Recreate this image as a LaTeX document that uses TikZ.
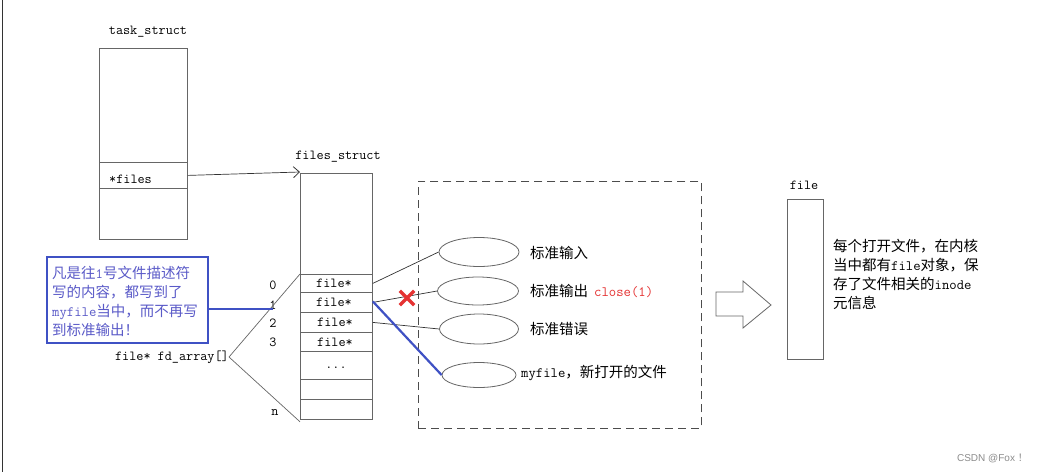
\documentclass[tikz,border=0pt]{standalone}
\usepackage{fontspec}
\newfontfamily\cjk{Noto Sans CJK SC}
\newfontfamily\wmfont{Liberation Sans}
\usetikzlibrary{arrows.meta,shapes.geometric}
\definecolor{boxgray}{HTML}{666666}
\definecolor{linegray}{HTML}{333333}
\definecolor{bluebox}{HTML}{3F51C4}
\definecolor{bluetext}{HTML}{5A5AC8}
\definecolor{redmark}{HTML}{E53333}
\newcommand\mtt[1]{{\ttfamily\fontsize{14.3}{19}\selectfont #1}}
\begin{document}
\begin{tikzpicture}[x=1pt,y=-1pt,
  cell/.style={draw=boxgray, line width=0.8pt, inner sep=0pt, anchor=north west},
  code/.style={font=\ttfamily\fontsize{13.8}{15}\selectfont, inner sep=0pt},
  cn/.style={font=\cjk\fontsize{14.5}{19}\selectfont, inner sep=0pt, align=left},
  ell/.style={draw=boxgray, line width=0.8pt, ellipse, inner sep=0pt},
  conn/.style={draw=linegray, line width=0.7pt},
  blueconn/.style={draw=bluebox, line width=2.2pt}
]
\useasboundingbox (0,0) rectangle (1041,472);
\fill[white] (0,0) rectangle (1041,472);
\draw[line width=1.3pt, black!80] (2.5,0) -- (2.5,472);

% task_struct
\node[code] (tslabel) at (148,32) {task\_struct};
\node[cell, minimum width=88, minimum height=114] (tstop) at (99,48) {};
\node[cell, minimum width=88, minimum height=26] (tsfiles) at (99,162) {};
\node[code, anchor=west] (tsfilestxt) at (109,179) {*files};
\node[cell, minimum width=88, minimum height=51] (tsbot) at (99,188) {};

% files_struct
\node[code] (fslabel) at (338,157) {files\_struct};
\node[cell, minimum width=72, minimum height=101] (fstop) at (300,173) {};
\node[cell, minimum width=72, minimum height=18] (r0) at (300,274) {};
\node[cell, minimum width=72, minimum height=20] (r1) at (300,292) {};
\node[cell, minimum width=72, minimum height=20] (r2) at (300,312) {};
\node[cell, minimum width=72, minimum height=19] (r3) at (300,332) {};
\node[cell, minimum width=72, minimum height=28] (r4) at (300,351) {};
\node[cell, minimum width=72, minimum height=20] (r5) at (300,379) {};
\node[cell, minimum width=72, minimum height=20] (r6) at (300,399) {};
\node[code] (t0) at (334,283.5) {file*};
\node[code] (t1) at (334,302.5) {file*};
\node[code] (t2) at (335,322.5) {file*};
\node[code] (t3) at (335,342) {file*};
\node[code] (t4) at (336,368) {...};

% indices
\node[code] (i0) at (273,285) {0};
\node[code] (i1) at (273,305) {1};
\node[code] (i2) at (273,323) {2};
\node[code] (i3) at (273,342) {3};
\node[code] (in) at (275,412) {n};
\node[code, anchor=east] (fd) at (229,357) {file* fd\_array[]};
\draw[conn, draw=boxgray] (fd.east) -- (r0.north west);
\draw[conn, draw=boxgray] (fd.east) -- ([yshift=-2pt]r6.south west);

% *files -> files_struct
\draw[conn, -{Straight Barb[length=6pt,width=11pt,line width=0.8pt]}] (tsfiles.east) -- ([yshift=1pt]fstop.north west);

% dashed box
\node[cell, dashed, dash pattern=on 8pt off 5pt, draw=black!70, minimum width=283, minimum height=247] (dbox) at (418,181) {};

% ellipses
\node[ell, minimum width=80, minimum height=29] (e1) at (479,252) {};
\node[ell, minimum width=81, minimum height=28] (e2) at (478,291) {};
\node[ell, minimum width=79, minimum height=30] (e3) at (479,329) {};
\node[ell, minimum width=74, minimum height=25] (e4) at (479,375) {};
\node[cn, anchor=west] (l1) at (530,253) {标准输入};
\node[cn, anchor=west] (l2) at (530,291) {标准输出\hspace{6pt}{\ttfamily\fontsize{14.3}{16}\selectfont\color{redmark}close(1)}};
\node[cn, anchor=west] (l3) at (530,329) {标准错误};
\node[cn, anchor=west] (l4) at (521,373) {\mtt{myfile}，新打开的文件};

% connectors
\draw[conn] (r0.east) -- (e1.west);
\draw[conn] (r1.east) -- (e2.west);
\draw[conn] (r2.east) -- (e3.west);
\draw[blueconn] ([yshift=1pt]r1.east) -- (e4.west);

% red X
\node[inner sep=0pt, minimum size=14pt] (xmark) at (407,298) {};
\draw[redmark, line width=3.2pt] (xmark.north west) -- (xmark.south east) (xmark.north east) -- (xmark.south west);

% blue note
\node[cell, draw=bluebox, line width=2.2pt, minimum width=161, minimum height=86] (note) at (46,256) {};
\node[cn, anchor=west, text=bluetext] (notetxt) at (52,301) {凡是往\mtt{1}号文件描述符\\写的内容，都写到了\\\mtt{myfile}当中，而不再写\\到标准输出！};
\coordinate (nb) at ([yshift=-9pt]note.east);
\draw[blueconn] (nb) -- (nb -| i1.center);

% fat arrow
\draw[draw=boxgray, line width=0.8pt] (716,292) -- (743,292) -- (743,281) -- (771,305) -- (743,328) -- (743,316) -- (716,316) -- cycle;

% file
\node[code] (filelabel) at (804,185) {file};
\node[cell, minimum width=36, minimum height=160] (filebox) at (787,199) {};
\node[cn, anchor=west] (filetxt) at (833,274) {每个打开文件，在内核\\当中都有\mtt{file}对象，保\\存了文件相关的\mtt{inode}\\元信息};

% watermark
\node[inner sep=0pt, anchor=east, font=\wmfont\fontsize{10}{12}\selectfont, text=black!45] (wm) at (1028,458) {CSDN @Fox {\cjk！}};
\end{tikzpicture}
\end{document}
